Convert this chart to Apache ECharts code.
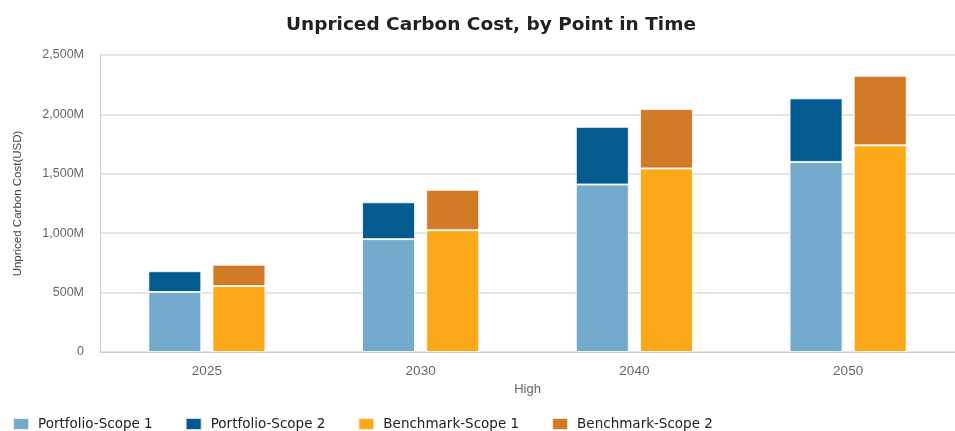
<!DOCTYPE html>
<html><head><meta charset="utf-8">
<script src="https://cdn.jsdelivr.net/npm/echarts@6/dist/echarts.min.js"></script>
<style>html,body{margin:0;padding:0;background:#fff}#c{width:955px;height:431px}</style>
</head><body><div id="c"></div>
<script>
const categories = ['2025', '2030', '2040', '2050'];
const portfolioScope1 = [505, 950, 1410, 1600];
const portfolioScope2 = [175, 310, 485, 535];
const benchmarkScope1 = [555, 1025, 1545, 1740];
const benchmarkScope2 = [180, 340, 500, 585];
const yTicks = [0, 500, 1000, 1500, 2000, 2500];

function fmt(v){ return v === 0 ? '0' : v.toLocaleString('en-US') + 'M'; }

const chart = echarts.init(document.getElementById('c'));
const seg = (name, data, stack, color) => ({
  name, type: 'bar', stack, data, barWidth: 53, barGap: '21%',
  itemStyle: { color, borderColor: 'rgba(255,255,255,0.8)', borderWidth: 1 }
});
chart.setOption({
  animation: false,
  title: { text: 'Unpriced Carbon Cost, by Point in Time', left: 281, top: 11,
    textStyle: { fontFamily: 'DejaVu Sans', fontWeight: 'bold', fontSize: 18.5, color: '#222' } },
  grid: { left: 100, top: 55, width: 866, height: 297 },
  legend: { left: 7, top: 412, itemWidth: 16, itemHeight: 12, itemGap: 32, icon: 'rect',
    textStyle: { fontFamily: 'DejaVu Sans', fontSize: 13.5, color: '#222', padding: [0,0,0,4] } },
  xAxis: { type: 'category', data: categories, name: 'High', nameLocation: 'middle', nameGap: 31,
    nameTextStyle: { fontFamily: 'Liberation Sans', fontSize: 13, color: '#666' },
    axisLine: { lineStyle: { color: '#ccc' } }, axisTick: { show: false },
    axisLabel: { fontFamily: 'Liberation Sans', fontSize: 13.5, color: '#666', margin: 12 } },
  yAxis: { type: 'value', min: yTicks[0], max: yTicks[yTicks.length-1], interval: 500,
    name: 'Unpriced Carbon Cost(USD)', nameLocation: 'middle', nameGap: 76,
    nameTextStyle: { fontFamily: 'Liberation Sans', fontSize: 11.5, color: '#444' },
    axisLine: { show: true, lineStyle: { color: '#ccc' } }, axisTick: { show: false },
    splitLine: { lineStyle: { color: '#ddd', width: 1.5 } },
    axisLabel: { fontFamily: 'Liberation Sans', fontSize: 12.5, color: '#666', margin: 16, formatter: fmt } },
  series: [
    seg('Portfolio-Scope 1', portfolioScope1, 'p', '#74aacb'),
    seg('Portfolio-Scope 2', portfolioScope2, 'p', '#025a8e'),
    seg('Benchmark-Scope 1', benchmarkScope1, 'b', '#fba919'),
    seg('Benchmark-Scope 2', benchmarkScope2, 'b', '#d37a27')
  ]
});
</script></body></html>
